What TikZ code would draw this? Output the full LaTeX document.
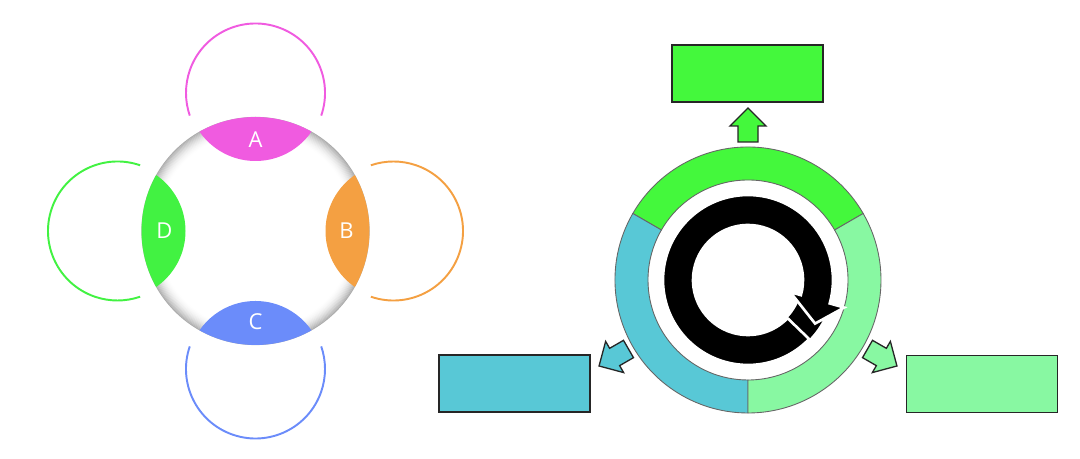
\documentclass[tikz,border=0pt]{standalone}
\usepackage{fontspec}
\setsansfont{Open Sans}

\definecolor{lensA}{HTML}{F05BE0}
\definecolor{lensB}{HTML}{F4A042}
\definecolor{lensC}{HTML}{6B8CFA}
\definecolor{lensD}{HTML}{42F242}
\definecolor{segtop}{HTML}{44F83C}
\definecolor{segright}{HTML}{88F8A2}
\definecolor{segleft}{HTML}{58C8D6}

\begin{document}
\begin{tikzpicture}[x=0.02cm,y=0.02cm,
    lenslabel/.style={text=white,font=\sffamily\fontsize{12.5}{14}\selectfont},
    outbox/.style={draw=black!85,line width=0.75pt,minimum width=3.02cm,minimum height=1.14cm,inner sep=0pt},
    blockarrow/.style={draw=black!85,line width=0.75pt,line join=miter},
    segment/.style={draw=black!60,line width=0.5pt}]
\useasboundingbox (0,0) rectangle (1080,459);
\coordinate (lc) at (255.5,228);
\coordinate (rc) at (748,179);

% left ring, grey rim
\foreach \i in {0,...,16}{
  \pgfmathsetmacro\gr{32*(1-\i/16)^2}
  \draw[line width=0.7pt,black!\gr] (lc) circle[radius=113.5-\i];
}
\begin{scope}[shift={(lc)}]
\foreach \ang/\col/\lab in {90/lensA/A,0/lensB/B,270/lensC/C,180/lensD/D}{
  \begin{scope}
    \clip (0,0) circle[radius=114];
    \fill[\col] (\ang:138) circle[radius=68];
  \end{scope}
  \draw[\col,line width=1.1pt] (\ang:138) ++(\ang-109:69.5)
    arc[start angle=\ang-109,delta angle=218,radius=69.5];
  \node[lenslabel] (lab\lab) at (\ang:91) {\lab};
}
\end{scope}

% right ring
\begin{scope}[shift={(rc)}]
\foreach \a/\col in {30/segtop,150/segleft,270/segright}
  \draw[segment,fill=\col] (\a:133) arc[start angle=\a,delta angle=120,radius=133]
    -- (\a+120:100) arc[start angle=\a+120,delta angle=-120,radius=100] -- cycle;
% circular arrow
\fill[black] (310:85) arc[start angle=310,end angle=340,radius=85]
  -- (340:55) arc[start angle=340,end angle=310,radius=55] -- cycle;
\draw[fill=black,draw=white,line width=1.5pt,line join=miter]
  (316:85) arc[start angle=316,end angle=-16,radius=85] -- (-16:100) -- (-33:80)
  -- (-16:44) -- (-16:55) arc[start angle=-16,end angle=316,radius=55] -- cycle;
% block arrows
\foreach \ang/\col in {90/segtop,210/segleft,330/segright}
  \draw[blockarrow,fill=\col,rotate=\ang] (138,-10) -- (154,-10) -- (154,-18)
    -- (172,0) -- (154,18) -- (154,10) -- (138,10) -- cycle;
\end{scope}

\node[outbox,fill=segtop] (topbox) at (747.5,385.5) {};
\node[outbox,fill=segleft] (leftbox) at (514.5,75.5) {};
\node[outbox,fill=segright] (rightbox) at (982,75) {};
\end{tikzpicture}
\end{document}
